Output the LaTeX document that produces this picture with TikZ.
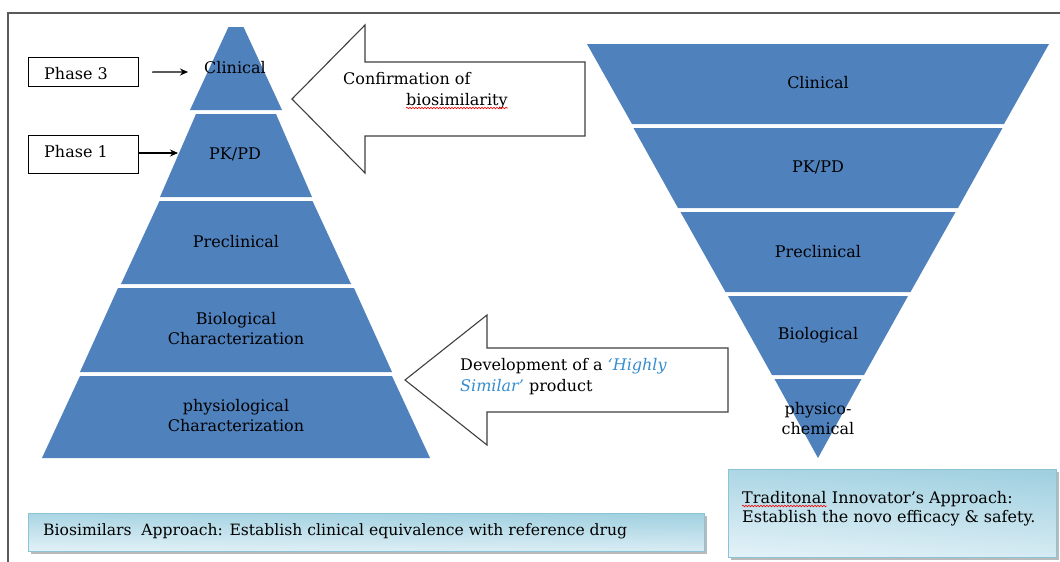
\documentclass[tikz,border=0pt]{standalone}
\usepackage{fontspec}
\setmainfont{DejaVu Serif}
\usetikzlibrary{arrows.meta,shadows,decorations.pathmorphing}
\definecolor{tierblue}{RGB}{79,129,189}
\definecolor{framegray}{RGB}{90,90,90}
\definecolor{arrowgray}{RGB}{64,64,64}
\definecolor{hiblue}{RGB}{54,142,207}
\definecolor{boxdark}{RGB}{160,208,224}
\definecolor{boxlight}{RGB}{226,241,247}
\definecolor{boxedge}{RGB}{140,196,214}
\begin{document}
\begin{tikzpicture}[x=1pt,y=-1pt,
  tier/.style={fill=tierblue},
  lbl/.style={font=\fontsize{16}{20}\selectfont, text=black, align=center, inner sep=0pt},
  txt/.style={font=\fontsize{16}{20}\selectfont, text=black, inner sep=0pt, anchor=base west},
  phasebox/.style={draw=black, line width=1.1pt, fill=white, anchor=north west, minimum width=110pt, inner sep=0pt},
  bigarrow/.style={draw=arrowgray, line width=1.1pt, fill=white, line join=miter},
  conn/.style={draw=black, line width=1.1pt, -{Stealth[length=8pt,width=7pt]}},
  infobox/.style={draw=boxedge, line width=0.6pt, top color=boxdark, bottom color=boxlight, shading angle=#1,
     anchor=north west, inner sep=0pt,
     drop shadow={shadow xshift=2.5pt, shadow yshift=-2.5pt, fill=black!45, opacity=0.6}},
  wavy/.style={draw=red, line width=0.6pt, decorate, decoration={snake, segment length=3pt, amplitude=0.8pt}}
]
\useasboundingbox (0,0) rectangle (1060,562);
\fill[white] (0,0) rectangle (1060,562);

% outer frame (partially visible)
\draw[framegray, line width=2pt] (8,562) -- (8,13) -- (1060,13);

% ---- left pyramid ----
\fill[tier] (228.5,27) -- (243.5,27) -- (282,110) -- (190,110) -- cycle;
\fill[tier] (196,114) -- (276,114) -- (312,197) -- (160,197) -- cycle;
\fill[tier] (159.5,201) -- (312.5,201) -- (351,284) -- (121,284) -- cycle;
\fill[tier] (118,288) -- (354,288) -- (392,372) -- (80,372) -- cycle;
\fill[tier] (80,376) -- (392,376) -- (430,458) -- (42,458) -- cycle;

\node[lbl] (L1) at (235,68) {Clinical};
\node[lbl] (L2) at (235,154) {PK/PD};
\node[lbl] (L3) at (236,242) {Preclinical};
\node[lbl] (L4) at (236,329) {Biological\\Characterization};
\node[lbl] (L5) at (236,416) {physiological\\Characterization};

% ---- right inverted pyramid ----
\fill[tier] (587,44) -- (1049,44) -- (1004,124) -- (632,124) -- cycle;
\fill[tier] (633.5,128) -- (1002.5,128) -- (958,208) -- (678,208) -- cycle;
\fill[tier] (680.5,212) -- (955.5,212) -- (910.5,292) -- (725.5,292) -- cycle;
\fill[tier] (728,296) -- (908,296) -- (864,375) -- (772,375) -- cycle;
\fill[tier] (774.5,379) -- (861.5,379) -- (818,458) -- cycle;

\node[lbl] (R1) at (818,83) {Clinical};
\node[lbl] (R2) at (818,167) {PK/PD};
\node[lbl] (R3) at (818,252) {Preclinical};
\node[lbl] (R4) at (818,335) {Biological};
\node[lbl] (R5) at (818,419) {physico-\\chemical};

% ---- phase boxes ----
\node[phasebox, minimum height=29pt] (p3) at (28,57) {};
\node[txt] (p3t) at (44,79) {Phase 3};
\node[phasebox, minimum height=38pt] (p1) at (28,135) {};
\node[txt] (p1t) at (44,157) {Phase 1};

\coordinate (c3end) at (188,72);
\coordinate (c1end) at (178,153);
\draw[conn] ([xshift=13pt]p3.east) -- (c3end);
\draw[conn] (p1.east |- c1end) -- (c1end);

% ---- big arrows ----
\draw[bigarrow] (292,99) -- (365,25) -- (365,62) -- (585,62) -- (585,136) -- (365,136) -- (365,173) -- cycle;
\node[txt] (conf) at (343,84) {Confirmation of};
\node[txt] (bio) at (406,105) {biosimilarity};
\draw[wavy] ([yshift=-3pt]bio.base west) -- ([yshift=-3pt]bio.base east);

\draw[bigarrow] (405,380) -- (487,315) -- (487,348) -- (728,348) -- (728,412) -- (487,412) -- (487,445) -- cycle;
\node[txt] (dev1) at (460,370) {Development of a \textcolor{hiblue}{\itshape ‘Highly}};
\node[txt] (dev2) at (460,391) {\textcolor{hiblue}{\itshape Similar’} product};

% ---- bottom info boxes ----
\node[infobox=-0.6, minimum width=676pt, minimum height=38pt] (bl) at (28,513) {};
\node[txt, font=\fontsize{15.6}{19}\selectfont] (blt) at (43,535) {Biosimilars\ \ Approach: Establish clinical equivalence with reference drug};

\node[infobox=-4, minimum width=328pt, minimum height=88pt] (br) at (728,469) {};
\node[txt] (trad) at (742,503) {Traditonal};
\draw[wavy] ([yshift=-3pt]trad.base west) -- ([yshift=-3pt]trad.base east);
\node[txt] (inno) at ([xshift=5.1pt]trad.base east) {Innovator’s Approach:};
\node[txt] (est) at (742,522) {Establish the novo efficacy \& safety.};
\end{tikzpicture}
\end{document}
